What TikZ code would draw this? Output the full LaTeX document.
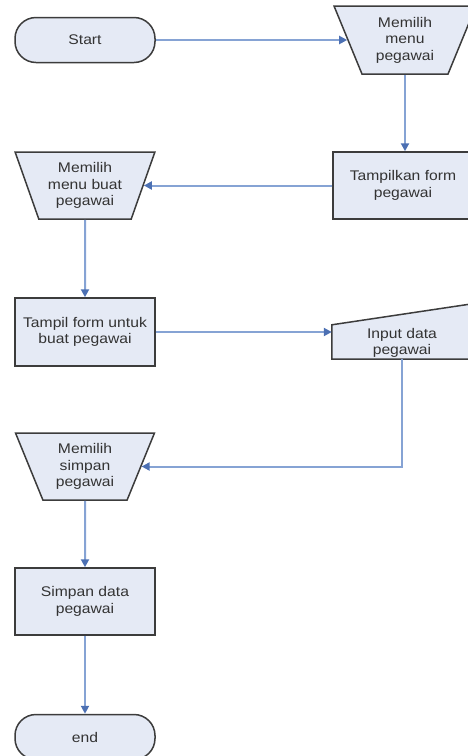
\documentclass[tikz,border=0pt]{standalone}
\usepackage{fontspec}
\setmainfont[FakeStretch=1.12]{Liberation Sans}
\newfontfamily\headserif{Liberation Serif}
\usetikzlibrary{shapes.geometric,arrows.meta,backgrounds,calc}

\definecolor{boxfill}{HTML}{E5EAF5}
\definecolor{boxline}{HTML}{3C3C3C}
\definecolor{flow}{HTML}{86A3D4}
\definecolor{flowtip}{HTML}{4C70B3}
\definecolor{txt}{HTML}{333333}

\tikzset{
  base/.style={draw=boxline, fill=boxfill, line width=1.5pt, text=txt,
    font=\fontsize{14}{16.5}\selectfont, align=center, inner sep=0pt},
  terminal/.style={base, rectangle, rounded corners=21pt,
    minimum width=140pt, minimum height=45pt},
  process/.style={base, rectangle, minimum width=140pt, minimum height=67pt},
  manop/.style={base, trapezium, trapezium stretches=true,
    shape border rotate=180, trapezium left angle=67.6,
    trapezium right angle=67.6, minimum width=140pt, minimum height=67pt},
  manin/.style={text=txt, font=\fontsize{14}{16.5}\selectfont, align=center,
    inner sep=0pt, minimum width=140pt, minimum height=32pt},
  flowline/.style={draw=flow, line width=2pt,
    -{Triangle[length=8pt,width=8pt,color=flowtip]}}
}

\begin{document}
\begin{tikzpicture}[x=1pt,y=-1pt]
  \useasboundingbox (0,0) rectangle (468,756);

  % heading text cut by the top edge
  \node[anchor=base west, inner sep=0pt, font=\headserif\fontsize{22}{22}\selectfont]
    (head) at (62,-4.5) {p};

  % flowchart steps
  \node[terminal] (start) at (85,40) {Start};
  \node[manop, minimum width=143pt, minimum height=68pt] (menu) at (405,40)
    {Memilih\\menu\\pegawai};
  \node[process] (tampilform) at (403,185.5) {Tampilkan form\\pegawai};
  \node[manop] (menubuat) at (85,185.5) {Memilih\\menu buat\\pegawai};
  \node[process, minimum height=68pt] (formbuat) at (85,332)
    {Tampil form untuk\\buat pegawai};
  \node[manin] (input) at (402,343) {Input data\\pegawai};
  \begin{scope}[on background layer]
    \filldraw[draw=boxline, fill=boxfill, line width=1.5pt]
      (input.south west) -- (input.south east)
      -- ($(input.north east)+(0,-23)$)
      -- ($(input.north west)+(0,-2)$) -- cycle;
  \end{scope}
  \node[manop] (simpanmenu) at (85,466.5) {Memilih\\simpan\\pegawai};
  \node[process] (simpan) at (85,601.5) {Simpan data\\pegawai};
  \node[terminal] (end) at (85,737) {end};

  % connectors
  \draw[flowline] (start.east) -- (start.east -| menu.west);
  \draw[flowline] (menu.south) -- (tampilform.north -| menu.south);
  \draw[flowline] (tampilform.west) -- (tampilform.west -| menubuat.east);
  \draw[flowline] (menubuat.south) -- (formbuat.north);
  \draw[flowline] (formbuat.east) -- (formbuat.east -| input.west);
  \draw[flowline] (input.south) |- (simpanmenu.east);
  \draw[flowline] (simpanmenu.south) -- (simpan.north);
  \draw[flowline] (simpan.south) -- (end.north);
\end{tikzpicture}
\end{document}
